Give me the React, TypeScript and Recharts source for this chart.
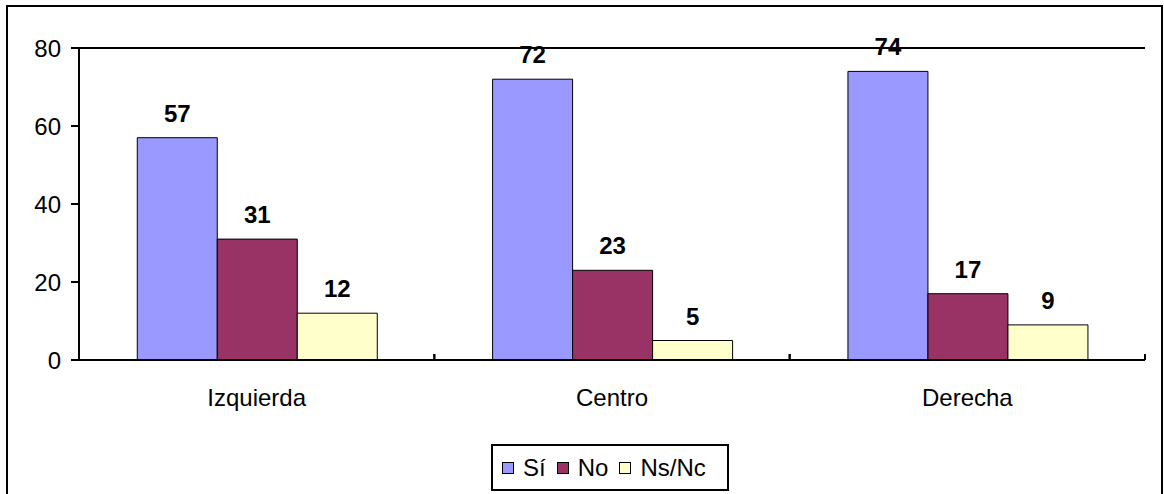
import { Bar, BarChart, CartesianGrid, LabelList, Legend, XAxis, YAxis } from "recharts";

const categories = ["Izquierda", "Centro", "Derecha"];
const siValues = [57, 72, 74];
const noValues = [31, 23, 17];
const nsncValues = [12, 5, 9];
const yTicks = [0, 20, 40, 60, 80];

const series = [
  { key: "si", name: "Sí", color: "#9999FF" },
  { key: "no", name: "No", color: "#993366" },
  { key: "nsnc", name: "Ns/Nc", color: "#FFFFCC" },
];

const data = categories.map((name, i) => ({
  name,
  si: siValues[i],
  no: noValues[i],
  nsnc: nsncValues[i],
}));

const FONT = "'Liberation Sans', Arial, sans-serif";

function CategoryTick(props: any) {
  const { x, y, payload } = props;
  const half = payload?.offset ?? 0;
  // y sits tickMargin (2px) below the axis line
  const axisY = y - 2;
  return (
    <g>
      <line x1={x - half} x2={x - half} y1={axisY} y2={axisY - 6} stroke="#000" strokeWidth={2} />
      <line x1={x + half} x2={x + half} y1={axisY} y2={axisY - 6} stroke="#000" strokeWidth={2} />
      <text x={x} y={y + 44} textAnchor="middle" fontSize={24} fill="#000" fontFamily={FONT}>
        {payload.value}
      </text>
    </g>
  );
}

function renderLegend() {
  return (
    <div
      style={{
        boxSizing: "border-box",
        width: 238,
        height: 47,
        border: "2px solid #000",
        background: "#fff",
        display: "flex",
        alignItems: "center",
        paddingLeft: 9,
        fontFamily: FONT,
        fontSize: 24,
        color: "#000",
      }}
    >
      {series.map((s) => (
        <span key={s.key} style={{ display: "flex", alignItems: "center", marginRight: 11 }}>
          <span
            style={{
              display: "inline-block",
              width: 10,
              height: 10,
              background: s.color,
              border: "1px solid #000",
              marginRight: 9,
            }}
          />
          {s.name}
        </span>
      ))}
    </div>
  );
}

export default function App() {
  return (
    <div style={{ position: "absolute", left: 0, top: 0, width: 1164, height: 494, overflow: "hidden", background: "#fff" }}>
      <div
        style={{
          position: "absolute",
          left: 6,
          top: 5,
          width: 1153,
          height: 520,
          border: "2px solid #000",
        }}
      />
      <div style={{ position: "absolute", left: 0, top: 0 }}>
        <BarChart
          width={1164}
          height={494}
          data={data}
          margin={{ top: 48, right: 19, bottom: 104, left: 0 }}
          barCategoryGap="16.4%"
          barGap={0}
        >
          <CartesianGrid vertical={false} stroke="#000" strokeWidth={2} />
          <XAxis
            dataKey="name"
            height={30}
            axisLine={{ stroke: "#000", strokeWidth: 2 }}
            tickLine={false}
            tickSize={0}
            tick={<CategoryTick />}
            interval={0}
          />
          <YAxis
            yAxisId="left"
            width={79}
            domain={[0, 80]}
            ticks={yTicks}
            axisLine={{ stroke: "#000", strokeWidth: 2 }}
            tickLine={{ stroke: "#000", strokeWidth: 2 }}
            tickSize={8}
            tickMargin={10}
            tick={{ fontSize: 24, fill: "#000", fontFamily: FONT }}
          />
          <YAxis
            yAxisId="right"
            orientation="right"
            width={0}
            domain={[0, 80]}
            tick={false}
            tickLine={false}
            axisLine={{ stroke: "#000", strokeWidth: 2 }}
          />
          <Legend
            layout="horizontal"
            verticalAlign="middle"
            align="center"
            wrapperStyle={{ left: 491, top: 444, width: 238, height: 47 }}
            content={renderLegend}
          />
          {series.map((s) => (
            <Bar
              key={s.key}
              yAxisId="left"
              dataKey={s.key}
              name={s.name}
              fill={s.color}
              stroke="#000"
              strokeWidth={1}
              isAnimationActive={false}
            >
              <LabelList
                dataKey={s.key}
                position="top"
                offset={16}
                fill="#000"
                fontSize={24}
                fontWeight="bold"
                fontFamily={FONT}
              />
            </Bar>
          ))}
        </BarChart>
      </div>
    </div>
  );
}
